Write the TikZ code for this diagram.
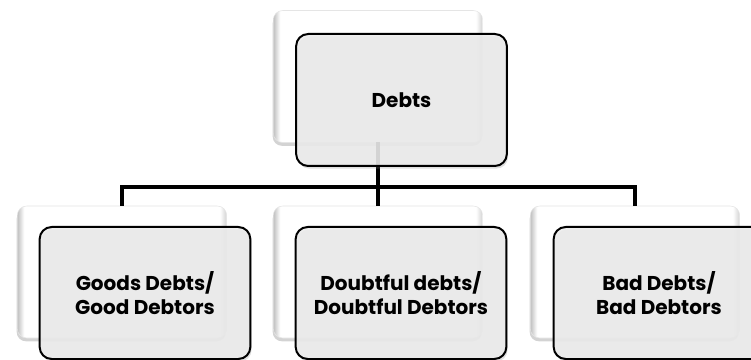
\documentclass[tikz,border=0pt]{standalone}
\usepackage{fontspec}
\setmainfont{Poppins}
\usepackage{tikz}
\usetikzlibrary{shadows}
\definecolor{f}{HTML}{ECECEC}
\pgfdeclarehorizontalshading{bk}{100bp}{color(0bp)=(black!25); color(25bp)=(black!25); color(26.6bp)=(white); color(73.4bp)=(white); color(75bp)=(black!18); color(100bp)=(black!18)}
\tikzset{b/.style={rectangle,rounded corners=7pt,draw=black!10,shading=bk,minimum width=157pt,minimum height=99pt,drop shadow={opacity=.35,shadow xshift=-0.5pt,shadow yshift=-2.5pt}}}
\tikzset{f/.style={rectangle,rounded corners=9pt,draw=black,line width=1.5pt,fill=f,fill opacity=.88,text opacity=1,minimum width=158pt,minimum height=99pt,drop shadow={opacity=.25,shadow xshift=1pt,shadow yshift=-2pt}}}
\tikzset{c/.style={draw=black,line width=3pt}}

\begin{document}
\begin{tikzpicture}[x=0.75pt,y=-0.75pt,
    every node/.style = {align=center, inner sep=0pt, outer sep=0pt,
      font=\bfseries\fontsize{15}{18}\selectfont}]
    \useasboundingbox (0,0) rectangle (751,360);
    % back boxes
    \node[b] (debtsb) at (378,76.5) {};
    \node[b] (goodb) at (122,272) {};
    \node[b] (doubtb) at (378,272) {};
    \node[b] (badb) at (635,272) {};
    % connectors
    \coordinate (bus) at (378,187);
    \draw[c] (debtsb.south) -- (bus) -| (goodb.north);
    \draw[c] (bus) -| (badb.north);
    \draw[c] (bus) -- (doubtb.north);
    % front boxes
    \node[f] (debts) at (401.5,100) {Debts};
    \node[f] (good) at (145,293) {Goods Debts/\\Good Debtors};
    \node[f] (doubt) at (401,293) {Doubtful debts/\\Doubtful Debtors};
    \node[f] (bad) at (659,293) {Bad Debts/\\Bad Debtors};
\end{tikzpicture}
\end{document}
